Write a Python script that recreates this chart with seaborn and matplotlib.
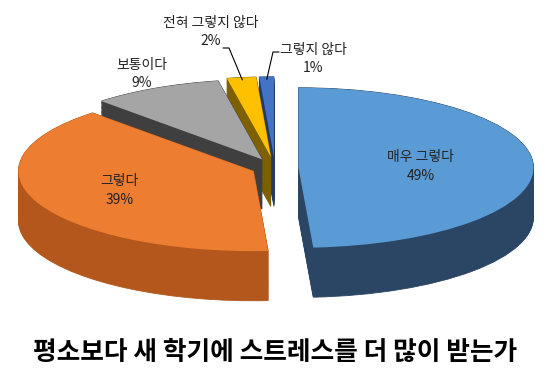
import numpy as np
import seaborn as sns
import matplotlib.pyplot as plt

# data
labels = ["매우 그렇다", "그렇다", "보통이다", "전혀 그렇지 않다", "그렇지 않다"]
values = [49, 39, 9, 2, 1]
top_colors = ["#5B9BD5", "#ED7D31", "#A5A5A5", "#FFC000", "#4472C4"]
side_colors = ["#2A4664", "#B3571C", "#3F3F3F", "#7F6000", "#22396A"]
explode = [0.1, 0.1, 0.12, 0.14, 0.14]
title = "평소보다 새 학기에 스트레스를 더 많이 받는가"

sns.set_theme(style="white")
plt.rcParams['font.family'] = ['Noto Sans CJK KR', 'DejaVu Sans']

fig = plt.figure(figsize=(5.5, 3.84), dpi=100)
ax = fig.add_axes([0, 0, 1, 1])

# pixel layout of the squashed pie
CX, CY, RX, RY = 275, 168, 235, 80
depth = 0.62


def px(x, y):
    return (x - CX) / RX, (CY - y) / RY


# sides: stack of darker pies going down
for d in np.linspace(depth, 0.0, 40):
    ax.pie(values, colors=side_colors, explode=explode, startangle=90,
           counterclock=False, center=(0, -d),
           wedgeprops=dict(linewidth=0.6))
    for w in ax.patches[-len(values):]:
        w.set_edgecolor(w.get_facecolor())

# top surface
wedges, _ = ax.pie(values, colors=top_colors, explode=explode, startangle=90,
                   counterclock=False, wedgeprops=dict(linewidth=0))

ax.set_aspect('auto')
ax.set_xlim(-CX / RX, (550 - CX) / RX)
ax.set_ylim((CY - 384) / RY, CY / RY)
ax.axis('off')

txt = dict(ha='center', va='center', fontsize=10, color='#222222', linespacing=1.45)

# labels inside the two big slices
for i, r in [(0, 0.52), (1, 0.62)]:
    w = wedges[i]
    mid = np.deg2rad((w.theta1 + w.theta2) / 2)
    cx, cy = w.center
    ax.text(cx + r * np.cos(mid), cy + r * np.sin(mid),
            f"{labels[i]}\n{values[i]}%", **txt)

# outside labels
ax.text(*px(142, 74), f"{labels[2]}\n{values[2]}%", **txt)
ax.text(*px(211, 32), f"{labels[3]}\n{values[3]}%", **txt)
ax.text(*px(313, 59), f"{labels[4]}\n{values[4]}%", **txt)

# leader lines
for i, stub in [(3, [(223, 48), (229, 48)]), (4, [(279, 52), (273, 52)])]:
    w = wedges[i]
    mid = np.deg2rad((w.theta1 + w.theta2) / 2)
    cx, cy = w.center
    pts = [px(*p) for p in stub] + [(cx + 0.97 * np.cos(mid), cy + 0.97 * np.sin(mid))]
    ax.plot([p[0] for p in pts], [p[1] for p in pts], color='black', lw=0.8)

fig.text(0.5, 1 - 352 / 384, title, ha='center', va='center',
         fontsize=18.5, fontweight='bold', color='black')

fig.savefig("out.png", dpi=100)
